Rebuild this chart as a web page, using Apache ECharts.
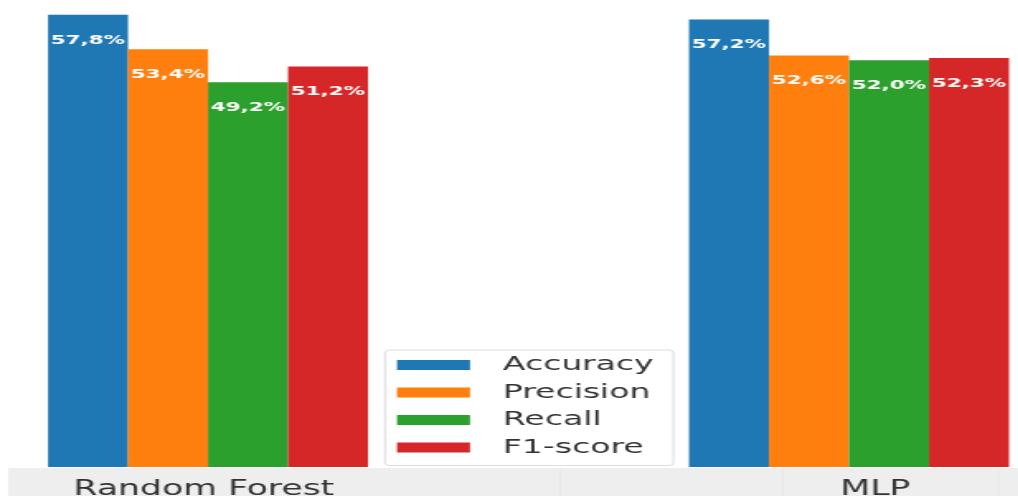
<!DOCTYPE html>
<html>
<head>
<meta charset="utf-8">
<script src="https://cdn.jsdelivr.net/npm/echarts@6/dist/echarts.min.js"></script>
<style>
  html, body { margin: 0; padding: 0; background: #ffffff; overflow: hidden; }
  /* The reference image is horizontally stretched; draw at a narrower width and stretch */
  #chart { width: 616.97px; height: 496px; transform: scaleX(1.65); transform-origin: 0 0; }
</style>
</head>
<body>
<div id="chart"></div>
<script>
const categories = ['Random Forest', 'MLP'];
const metricNames = ['Accuracy', 'Precision', 'Recall', 'F1-score'];
const accuracy = [57.8, 57.2];
const precision = [53.4, 52.6];
const recall = [49.2, 52.0];
const f1score = [51.2, 52.3];
const colors = ['#1f77b4', '#ff7f0e', '#2ca02c', '#d62728'];

const S = 1.65;            // horizontal stretch factor
const W0 = 1018 / S;       // inner drawing width

const chart = echarts.init(document.getElementById('chart'), null, { renderer: 'canvas' });

function fmt(p) {
  return p.value.toFixed(1).replace('.', ',') + '%';
}

function barSeries(name, data, color) {
  return {
    name: name,
    type: 'bar',
    data: data,
    barWidth: 80 / S,
    barGap: '0%',
    itemStyle: { color: color },
    label: {
      show: true,
      position: 'insideTop',
      distance: 19,
      formatter: fmt,
      color: '#ffffff',
      fontFamily: 'DejaVu Sans',
      fontWeight: 'bold',
      fontSize: 13
    }
  };
}

const groupCenters = [208 / S, 849 / S];
const band = groupCenters[1] - groupCenters[0];
const gridWidth = band * 2;
const gridLeft = groupCenters[0] - band / 2;

chart.setOption({
  animation: false,
  backgroundColor: '#ffffff',
  color: colors,
  graphic: [
    {
      type: 'rect',
      z: -10,
      shape: { x: 8 / S, y: 468, width: W0, height: 30 },
      style: { fill: '#eeeeee' }
    },
    { type: 'rect', z: -9, shape: { x: 560 / S, y: 470, width: 1 / S, height: 26 }, style: { fill: '#e2e2e2' } },
    { type: 'rect', z: -9, shape: { x: 782 / S, y: 470, width: 1 / S, height: 26 }, style: { fill: '#e2e2e2' } },
    { type: 'rect', z: -9, shape: { x: 998 / S, y: 470, width: 1 / S, height: 26 }, style: { fill: '#e2e2e2' } }
  ],
  grid: {
    left: gridLeft,
    width: gridWidth,
    top: 0,
    bottom: 29,
    containLabel: false,
    outerBoundsMode: 'none'
  },
  legend: {
    data: metricNames,
    orient: 'vertical',
    left: 385 / S,
    top: 350,
    padding: [5, 12, 8, 12 / S],
    itemGap: 7.5,
    itemWidth: 73 / S,
    itemHeight: 10,
    icon: 'rect',
    backgroundColor: '#ffffff',
    borderColor: '#dcdcdc',
    borderWidth: 1,
    borderRadius: 3,
    textStyle: {
      fontFamily: 'DejaVu Sans',
      fontSize: 20,
      lineHeight: 20,
      color: '#333333',
      padding: [0, 0, 0, 15]
    }
  },
  xAxis: {
    type: 'category',
    data: categories,
    z: 5,
    axisLine: { show: false },
    axisTick: { show: false },
    splitLine: { show: false },
    axisLabel: {
      margin: 12,
      fontFamily: 'DejaVu Sans',
      fontSize: 21,
      color: '#333333',
      formatter: function (v) {
        return v === 'MLP' ? '{m|' + v + '}' : '{r|' + v + '}';
      },
      rich: {
        m: { fontFamily: 'DejaVu Sans', fontSize: 21, color: '#333333', padding: [0, 0, 0, 32] },
        r: { fontFamily: 'DejaVu Sans', fontSize: 21, color: '#333333', padding: [0, 5, 0, 0] }
      }
    }
  },
  yAxis: {
    type: 'value',
    min: 0,
    max: 59.7,
    show: false,
    splitLine: { show: false }
  },
  series: [
    barSeries(metricNames[0], accuracy, colors[0]),
    barSeries(metricNames[1], precision, colors[1]),
    barSeries(metricNames[2], recall, colors[2]),
    barSeries(metricNames[3], f1score, colors[3])
  ]
});
</script>
</body>
</html>
